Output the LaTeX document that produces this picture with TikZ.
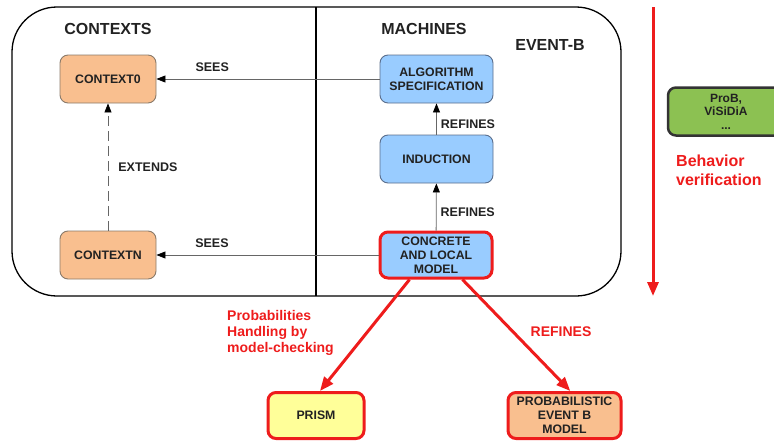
\documentclass[tikz,border=0pt]{standalone}
\usepackage{fontspec}
\setmainfont{Liberation Sans}
\usetikzlibrary{arrows.meta,calc}
\definecolor{boxblue}{HTML}{99CCFF}
\definecolor{blueline}{HTML}{5A6E8C}
\definecolor{boxorange}{HTML}{F9BF8F}
\definecolor{orangeline}{HTML}{8A7A6A}
\definecolor{myred}{HTML}{EE1C1C}
\definecolor{boxyellow}{HTML}{FFFF99}
\definecolor{boxgreen}{HTML}{8CC152}
\definecolor{txt}{HTML}{222222}
\tikzset{
  base/.style={rounded corners=8pt, align=center, font=\fontsize{12.3}{14}\selectfont\bfseries, text=txt, inner sep=1pt},
  ctx/.style={base, fill=boxorange, draw=orangeline, line width=0.9pt, minimum width=96pt, minimum height=48pt},
  mach/.style={base, fill=boxblue, draw=blueline, line width=0.9pt, minimum width=113pt, minimum height=48pt},
  redbox/.style={base, draw=myred, line width=3pt, minimum height=46pt},
  head/.style={font=\fontsize{16}{18}\selectfont\bfseries, text=txt, inner sep=0pt},
  lbl/.style={font=\fontsize{12.5}{14}\selectfont\bfseries, text=txt, inner sep=0pt},
  redlbl/.style={font=\fontsize{14}{16}\selectfont\bfseries, text=myred, inner sep=0pt, align=left},
  blk/.style={draw=black!60, line width=0.8pt, -{Triangle[length=9pt,width=7pt,color=black]}},
  redarr/.style={draw=myred, line width=3pt, -{Triangle[length=14pt,width=11pt]}}
}
\begin{document}
\begin{tikzpicture}[x=1pt,y=-1pt]
\useasboundingbox (0,0) rectangle (774,442);
\clip (0,0) rectangle (774,442);
% Event-B frame
\draw[line width=1.3pt, rounded corners=45pt] (12,7) rectangle (621,296);
\draw[line width=1.3pt] (316,7) -- (316,296);
\node[head] (hctx) at (108,29) {CONTEXTS};
\node[head] (hmach) at (424,29) {MACHINES};
\node[head] (hevb) at (550,45) {EVENT-B};
% nodes
\node[ctx] (c0) at (108,79) {CONTEXT0};
\node[ctx] (cn) at (108,255) {CONTEXTN};
\node[mach] (alg) at (436.5,79) {ALGORITHM\\SPECIFICATION};
\node[mach] (ind) at (436.5,159) {INDUCTION};
\node[mach, draw=myred, line width=3pt, minimum width=112pt, minimum height=46pt] (conc) at (436,255) {CONCRETE\\AND LOCAL\\MODEL};
% connectors
\draw[blk] (alg) -- (c0) node[lbl, pos=0.75, above=7pt] (sees1) {SEES};
\draw[blk] (conc) -- (cn) node[lbl, pos=0.75, above=7pt] (sees2) {SEES};
\draw[blk, dash pattern=on 10pt off 5pt] (cn) -- (c0) node[lbl, midway, right=10pt] (ext) {EXTENDS};
\draw[blk] (ind) -- (alg) node[lbl, midway, right=4pt, yshift=-5pt] (ref1) {REFINES};
\draw[blk] (conc) -- (ind) node[lbl, midway, right=4pt, yshift=-5pt] (ref2) {REFINES};
% behavior verification
\coordinate (vtop) at (653,7);
\coordinate (vbot) at (653,296);
\draw[redarr] (vtop) -- (vbot);
\node[base, fill=boxgreen, draw=black!80, line width=2.5pt, minimum width=116pt, minimum height=48pt, font=\fontsize{12}{13.5}\selectfont\bfseries] (prob) at (726,111.5) {ProB,\\ViSiDiA\\...};
\node[font=\fontsize{16}{18.5}\selectfont\bfseries, text=myred, align=left, anchor=north west, inner sep=0pt] (bv) at (676,155) {Behavior\\verification};
% bottom
\node[redbox, fill=boxyellow, minimum width=96pt] (prism) at (316,415.5) {PRISM};
\node[redbox, fill=boxorange, minimum width=113pt] (pem) at (564.5,415.5) {PROBABILISTIC\\EVENT B\\MODEL};
\draw[redarr] ($(conc.south west)!0.27!(conc.south east)$) -- ($(prism.north west)!0.54!(prism.north east)$);
\draw[redarr] ($(conc.south west)!0.73!(conc.south east)$) -- ($(pem.north west)!0.55!(pem.north east)$);
\node[redlbl, anchor=north west] (plbl) at (227,310) {Probabilities\\Handling by\\model-checking};
\node[redlbl] (rlbl) at (561,332) {REFINES};
\end{tikzpicture}
\end{document}
